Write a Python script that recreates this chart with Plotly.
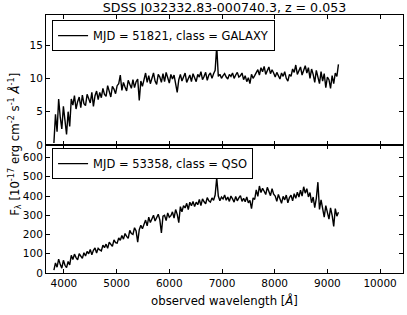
import numpy as np
import plotly.graph_objects as go
from plotly.subplots import make_subplots

# wavelength grid (Angstrom): start and step of the sampled spectrum
wave_start = 3810
wave_step = 30

galaxy_flux = [
    0.3, 4.6, 2.0, 6.9, 4.2, 2.4, 5.8, 3.6, 1.6, 5.0,
    2.8, 6.9, 6.0, 7.4, 5.4, 6.5, 7.2, 5.6, 7.5, 6.2,
    5.9, 7.6, 7.0, 6.3, 7.9, 5.8, 7.4, 8.1, 6.8, 7.9,
    7.1, 8.5, 7.6, 7.3, 8.9, 8.0, 7.2, 8.8, 8.4, 7.7,
    8.9, 9.2, 10.5, 8.2, 9.4, 8.7, 8.1, 9.7, 9.0, 8.5,
    9.8, 8.6, 9.5, 9.9, 6.7, 9.6, 8.8, 10.0, 10.8, 9.4,
    10.4, 9.2, 10.0, 10.8, 9.6, 9.1, 10.6, 10.2, 9.4, 10.7,
    9.5, 10.9, 10.1, 9.3, 10.6, 9.9, 10.5, 9.2, 7.9, 9.8,
    10.6, 9.6, 10.2, 10.8, 9.4, 10.0, 10.5, 9.5, 10.7, 10.1,
    9.5, 10.6, 10.2, 11.0, 9.8, 10.3, 10.9, 9.7, 10.5, 10.8,
    10.0, 10.7, 11.2, 14.8, 10.3, 10.6, 10.0, 10.4, 10.7, 10.2,
    9.9, 10.6, 10.3, 10.8, 10.0, 10.5, 10.9, 10.2, 10.4, 10.8,
    9.8, 10.4, 9.5, 10.1, 9.2, 10.6, 10.0, 10.4, 10.9, 11.3,
    10.5, 11.6, 11.0, 11.8, 10.6, 11.2, 11.7, 10.7, 11.3, 10.8,
    10.2, 10.9, 10.5, 9.9, 10.8, 10.3, 11.0, 10.0, 9.6, 10.6,
    10.3, 11.4, 10.9, 12.0, 10.6, 11.2, 11.7, 10.5, 11.4, 11.9,
    10.8, 11.6, 10.0, 11.4, 10.6, 9.4, 11.2, 10.3, 9.2, 11.0,
    9.6, 10.7, 8.6, 10.2, 9.8, 8.5, 10.4, 9.2, 10.8, 10.3,
    12.1,
]

qso_flux = [
    15, 52, 30, 72, 45, 25, 66, 40, 28, 60,
    42, 92, 70, 98, 80, 68, 100, 85, 76, 105,
    88, 112, 100, 122, 95, 118, 130, 104, 128, 120,
    115, 145, 132, 150, 128, 160, 150, 138, 172, 158,
    155, 182, 170, 195, 176, 205, 190, 180, 222, 205,
    200, 235, 218, 160, 225, 248, 230, 258, 275, 245,
    290, 262, 280, 300, 270, 288, 305, 276, 208, 295,
    300, 272, 312, 290, 298, 318, 285, 330, 305, 262,
    345, 318, 350, 338, 362, 330, 368, 350, 372, 345,
    368, 355, 382, 350, 385, 370, 360, 392, 375, 368,
    390, 378, 405, 495, 400, 375, 395, 385, 405, 378,
    395, 372, 400, 385, 368, 398, 375, 390, 402, 372,
    388, 370, 395, 365, 378, 335, 390, 382, 432, 398,
    452, 418, 440, 425, 408, 445, 420, 402, 438, 410,
    400, 372, 408, 385, 362, 398, 380, 405, 365, 392,
    405, 375, 412, 388, 420, 395, 430, 400, 448, 415,
    438, 395, 418, 365, 395, 340, 388, 472, 330, 380,
    340, 290, 350, 305, 280, 338, 300, 242, 335, 295,
    316,
]

wave = wave_start + wave_step * np.arange(len(galaxy_flux))

title = "SDSS J032332.83-000740.3, z = 0.053"
label_top = "MJD = 51821, class = GALAXY"
label_bot = "MJD = 53358, class = QSO"
x_ticks = [4000, 5000, 6000, 7000, 8000, 9000, 10000]
y_ticks_top = [0, 5, 10, 15]
y_ticks_bot = [0, 100, 200, 300, 400, 500, 600]

FONT = "DejaVu Sans"

fig = make_subplots(rows=2, cols=1, shared_xaxes=True, vertical_spacing=0)
fig.add_trace(go.Scatter(x=wave, y=galaxy_flux, mode="lines", name=label_top,
                         line=dict(color="black", width=1.4), legend="legend"), row=1, col=1)
fig.add_trace(go.Scatter(x=wave, y=qso_flux, mode="lines", name=label_bot,
                         line=dict(color="black", width=1.4), legend="legend2"), row=2, col=1)

split = 0.496
axis_common = dict(showline=True, linecolor="black", linewidth=1, mirror="allticks",
                   ticks="inside", ticklen=4, tickcolor="black", showgrid=False,
                   zeroline=False, automargin=False,
                   tickfont=dict(family=FONT, size=10.5, color="black"))

fig.update_xaxes(range=[3660, 10435], tickvals=x_ticks,
                 ticktext=[str(v) for v in x_ticks], **axis_common)
fig.update_xaxes(showticklabels=False, row=1, col=1)
fig.update_xaxes(title=dict(text="observed wavelength [<i>Å</i>]", standoff=9,
                            font=dict(family=FONT, size=11.7, color="black")), row=2, col=1)
fig.update_yaxes(**axis_common)
fig.update_yaxes(range=[0, 19.5], tickvals=y_ticks_top, domain=[split, 1], row=1, col=1)
fig.update_yaxes(range=[0, 665], tickvals=y_ticks_bot, domain=[0, split], row=2, col=1)

legend_common = dict(bgcolor="white", bordercolor="black", borderwidth=1,
                     font=dict(family=FONT, size=11.5, color="black"),
                     xanchor="left", yanchor="top", itemwidth=30)
fig.update_layout(
    template="none",
    width=407, height=315,
    margin=dict(l=46, r=4, t=15, b=42),
    paper_bgcolor="white", plot_bgcolor="white",
    title=dict(text=title, x=0.5, xref="paper", xanchor="center",
               y=1 - 8 / 315, yanchor="middle",
               font=dict(family=FONT, size=12.6, color="black")),
    legend=dict(x=0.017, y=0.98, **legend_common),
    legend2=dict(x=0.017, y=0.484, **legend_common),
    showlegend=True,
)

fig.add_annotation(
    text="F<sub>λ</sub> [10<sup>-17</sup> erg cm<sup>-2</sup> s<sup>-1</sup> <i>Å</i><sup>-1</sup>]",
    xref="paper", yref="paper", x=-0.09, y=0.5, xanchor="center", yanchor="middle",
    textangle=-90, showarrow=False, font=dict(family=FONT, size=11.7, color="black"),
)

fig.write_html("out.html", config={"displayModeBar": False},
               post_script="document.body.style.margin='0px';")
